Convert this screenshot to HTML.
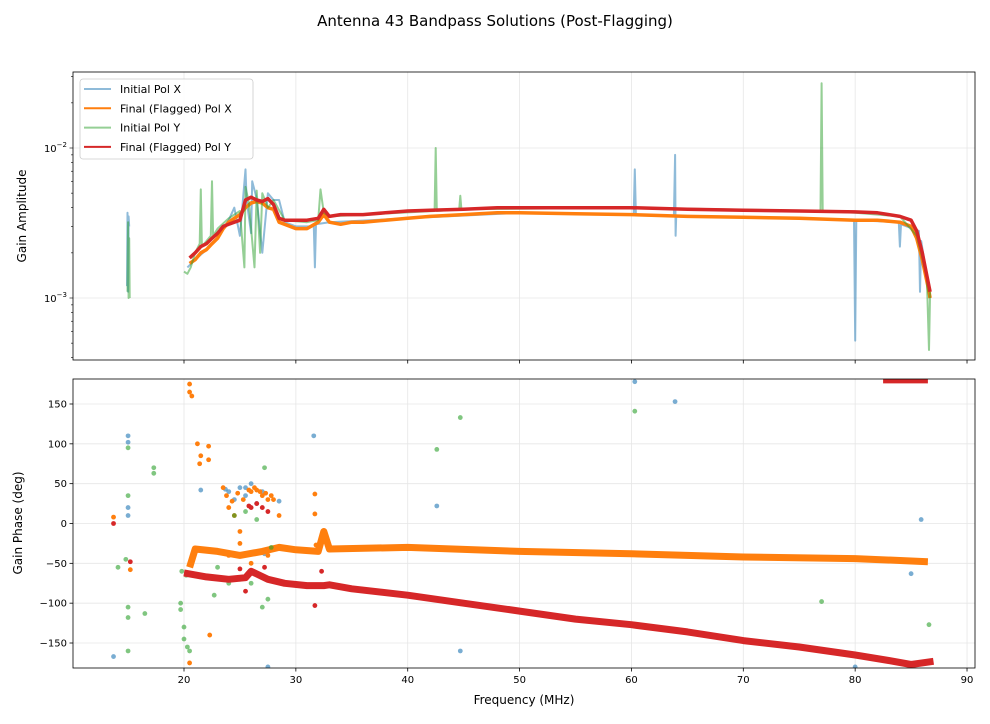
<!DOCTYPE html>
<html><head><meta charset="utf-8"><style>
body{margin:0;background:#fff;font-family:"DejaVu Sans","Liberation Sans",sans-serif;}
svg text{font-family:"DejaVu Sans","Liberation Sans",sans-serif;}
</style></head><body>
<svg id="c" width="990" height="720" viewBox="0 0 990 720">
<defs>
<clipPath id="ct"><rect x="73" y="72" width="902" height="288"/></clipPath>
<clipPath id="cb"><rect x="73" y="379" width="902" height="289"/></clipPath>
</defs>
<text x="495" y="26" text-anchor="middle" font-size="15">Antenna 43 Bandpass Solutions (Post-Flagging)</text>
<g id="topPanel"></g>
<g id="botPanel"></g>
</svg>
<script>
// ---- data ----
const xTicks=[20,30,40,50,60,70,80,90];
const phaseTicks=[-150,-100,-50,0,50,100,150];
const ampMajorTicks=[0.001,0.01];
// amplitudes in units of 1e-3 (null = gap)
const finalXFreq=[20.5,21,21.5,22,22.5,23,23.5,24,24.5,25,25.5,26,26.5,27,27.5,28,28.5,29,30,31,32,32.5,33,34,35,36,38,40,42,45,48,50,55,60,65,70,75,80,82,84,85,85.5,86,86.5,86.7];
const finalXAmp=[1.7,1.8,2.0,2.1,2.3,2.5,2.9,3.2,3.4,3.6,4.0,4.3,4.4,4.3,4.0,3.9,3.2,3.1,2.9,2.9,3.2,3.6,3.2,3.1,3.2,3.2,3.3,3.4,3.5,3.6,3.7,3.7,3.65,3.6,3.5,3.45,3.4,3.3,3.3,3.2,3.0,2.5,1.8,1.2,1.0];
const finalYFreq=[20.5,21,21.5,22,22.5,23,23.5,24,24.5,25,25.5,26,26.5,27,27.5,28,28.5,29,30,31,32,32.5,33,34,35,36,38,40,42,45,48,50,55,60,65,70,75,80,82,84,85,85.5,86,86.5,86.7];
const finalYAmp=[1.85,2.0,2.2,2.3,2.5,2.7,3.0,3.1,3.2,3.3,4.5,4.7,4.5,4.4,4.6,4.2,3.4,3.3,3.3,3.3,3.4,3.9,3.5,3.6,3.6,3.6,3.7,3.8,3.85,3.9,4.0,4.0,4.0,4.0,3.9,3.85,3.8,3.75,3.7,3.5,3.3,2.8,2.0,1.3,1.1];
const initXFreq=[14.9,14.95,15,15.05,15.1,null,20.3,21,22,23,24,24.5,25,25.5,25.6,26,26.1,26.5,27,27.5,28,28.5,29,30,31.6,31.7,31.8,33,40,50,60.2,60.3,60.4,63.8,63.9,63.95,64,70,79.9,80,80.1,83.9,84,84.1,85.7,85.8,85.9,86.7];
const initXAmp=[1.2,3.7,1.1,3.5,3.0,null,1.6,1.8,2.1,2.5,3.3,4.0,2.6,7.2,4.5,2.7,6.0,4.6,2.0,5.0,4.5,4.5,3.2,3.0,3.0,1.6,3.1,3.2,3.4,3.7,3.6,7.2,3.6,3.5,9.0,2.6,3.5,3.45,3.3,0.52,3.3,3.2,2.2,3.1,2.8,1.1,2.4,1.0];
const initYFreq=[14.95,15,15.05,15.1,15.15,null,20,20.3,20.6,21,21.4,21.5,21.6,22.4,22.5,22.6,23,24,25,25.4,25.5,25.8,26.3,26.5,26.8,27,27.5,28,29,31,32,32.2,32.5,33,42.4,42.5,42.6,44.6,44.7,44.8,60,76.9,77,77.1,80,84,85.5,86.2,86.4,86.6,86.7];
const initYAmp=[1.1,3.2,1.0,2.5,1.0,null,1.5,1.45,1.6,2.0,2.3,5.3,2.2,2.6,6.0,2.6,2.9,3.4,3.8,1.6,5.5,4.3,1.6,5.2,2.0,5.0,4.0,4.5,3.3,3.2,3.3,5.3,3.7,3.5,3.8,10.0,3.8,3.9,4.8,3.9,4.0,3.8,27.0,3.8,3.7,3.5,2.6,1.6,1.4,0.45,1.1];
// phase bands (deg)
const bandXFreq=[20.5,21,23,25,27,28.5,30,32,32.5,33,40,50,60,70,80,86.5];
const bandXPhase=[-55,-32,-35,-40,-35,-30,-33,-35,-10,-32,-30,-35,-38,-42,-44,-48];
const bandYFreq=[20,22,24,25.5,26,27.5,29,31,32.5,33,35,40,45,50,55,60,65,70,75,80,83,85,87];
const bandYPhase=[-62,-67,-70,-68,-60,-70,-75,-78,-78,-77,-82,-90,-100,-110,-120,-127,-136,-147,-155,-165,-172,-177,-173];
const wrapYFreq=[82.5,86.5];
const wrapYPhase=[179,179];
const ptsBlueF=[13.7,15,15,15,15,21.5,23.7,24,25,25.5,26,27,27.5,31.6,42.6,44.7,60.3,63.9,85.9,85,80,24.5,25.5,26.5,27.2,28.5];
const ptsBlueP=[-167,110,102,20,10,42,43,40,45,45,50,40,-180,110,22,-160,178,153,5,-63,-180,30,35,25,-38,28];
const ptsGreenF=[14.1,15,15,15,15,15,14.8,16.5,17.3,17.3,19.7,19.7,20,20,20.3,20.5,22.7,24,25,26,27,27.5,27.2,42.6,44.7,60.3,77,86.6,24.5,25.5,26.5,19.8,20.2,23,27.8];
const ptsGreenP=[-55,95,35,-105,-118,-160,-45,-113,70,63,-108,-100,-130,-145,-155,-160,-90,-75,-70,-75,-105,-95,70,93,133,141,-98,-127,10,15,5,-60,-65,-55,-30];
const ptsOrangeF=[13.7,15.2,20.5,20.5,20.7,21.2,21.5,21.4,22.2,22.2,22.3,20.5,23.5,24,24.5,25,26,26.5,27,27.5,28,28.5,31.7,31.7,24,25,26,27.5,31.8,23.8,24.8,25.8,26.8,27.8,24.3,25.3,26.3,27.3];
const ptsOrangeP=[8,-58,175,165,160,100,85,75,97,80,-140,-175,45,20,10,-10,40,42,35,30,30,10,37,12,-40,-25,-50,-40,-27,35,38,42,40,35,28,30,45,38];
const ptsRedF=[13.7,15.2,25,25.5,26,27,27.5,31.7,32.3,26.5,25.8,27.2];
const ptsRedP=[0,-48,-57,-85,20,20,15,-103,-60,25,22,-55];

// ---- axes ----
const NS='http://www.w3.org/2000/svg';
const L=73,R=975,TT=72,TB=360,BT=379,BB=668;
function xs(f){return 184+(f-20)*11.186;}
function ya(v){return 148-(Math.log10(v*1e-3)+2)*150;}
function yp(p){return 523.5-p*0.7967;}
function mk(tag,at,par){const e=document.createElementNS(NS,tag);for(const k in at)e.setAttribute(k,at[k]);par.appendChild(e);return e;}
function fmt(n){return n<0?'\u2212'+(-n):String(n);}
const topG=document.getElementById('topPanel'),botG=document.getElementById('botPanel');

// grids
xTicks.forEach(t=>{const X=xs(t);
 let g=mk('line',{x1:X,x2:X,y1:TT,y2:TB,stroke:'#e6e6e6','stroke-width':0.8},topG);
 
 g=mk('line',{x1:X,x2:X,y1:BT,y2:BB,stroke:'#e6e6e6','stroke-width':0.8},botG);
 });
ampMajorTicks.forEach(t=>{const Y=ya(t*1e3);
 const g=mk('line',{x1:L,x2:R,y1:Y,y2:Y,stroke:'#e6e6e6','stroke-width':0.8},topG);
 });
phaseTicks.forEach(t=>{const Y=yp(t);
 const g=mk('line',{x1:L,x2:R,y1:Y,y2:Y,stroke:'#e6e6e6','stroke-width':0.8},botG);
 });

// lines
const gt=mk('g',{'clip-path':'url(#ct)'},topG);
function drawLine(par,F,V,fy,col,w,op,name){
 let d='',start=true;
 F.forEach((f,i)=>{if(f===null||V[i]===null){start=true;return;}
  d+=(start?'M':'L')+xs(f).toFixed(1)+','+fy(V[i]).toFixed(1);start=false;});
 const p=mk('path',{d:d,fill:'none',stroke:col,'stroke-width':w,'stroke-opacity':op,'stroke-linejoin':'round'},par);
 return p;}
drawLine(gt,initXFreq,initXAmp,ya,'#1f77b4',2,0.5,'initial-pol-x-line');
drawLine(gt,finalXFreq,finalXAmp,ya,'#ff7f0e',3.5,1,'final-pol-x-line');
drawLine(gt,initYFreq,initYAmp,ya,'#2ca02c',2,0.5,'initial-pol-y-line');
drawLine(gt,finalYFreq,finalYAmp,ya,'#d62728',3.5,1,'final-pol-y-line');

// phase
const gb=mk('g',{'clip-path':'url(#cb)'},botG);
function pts(F,P,col,op,name){F.forEach((f,i)=>{const c=mk('circle',{cx:xs(f),cy:yp(P[i]),r:2.4,fill:col,'fill-opacity':op},gb);
 });}
pts(ptsBlueF,ptsBlueP,'#1f77b4',0.6,'initial-pol-x-point');
drawLine(gb,bandXFreq,bandXPhase,yp,'#ff7f0e',7,1,'final-pol-x-phase-band');
pts(ptsOrangeF,ptsOrangeP,'#ff7f0e',1,'final-pol-x-point');
pts(ptsGreenF,ptsGreenP,'#2ca02c',0.6,'initial-pol-y-point');
drawLine(gb,bandYFreq,bandYPhase,yp,'#d62728',7,1,'final-pol-y-phase-band');
drawLine(gb,wrapYFreq,wrapYPhase,yp,'#d62728',5,1,'final-pol-y-phase-wrap');
pts(ptsRedF,ptsRedP,'#d62728',1,'final-pol-y-point');

// frames
[[topG,TT,TB,'amplitude-frame'],[botG,BT,BB,'phase-frame']].forEach(([g,a,b,n])=>{
 const r=mk('rect',{x:L,y:a,width:R-L,height:b-a,fill:'none',stroke:'#000','stroke-width':0.8},g);
 });
// x ticks
xTicks.forEach(t=>{const X=xs(t);
 mk('line',{x1:X,x2:X,y1:TB,y2:TB+3.5,stroke:'#000','stroke-width':0.8},topG);
 mk('line',{x1:X,x2:X,y1:BB,y2:BB+3.5,stroke:'#000','stroke-width':0.8},botG);
 const tx=mk('text',{x:X,y:BB+15,'text-anchor':'middle','font-size':10},botG);tx.textContent=fmt(t);
 });
// amp y ticks
for(let e=-4;e<=-1;e++)for(let m=1;m<10;m++){const v=m*Math.pow(10,e)*1e3;const Y=ya(v);if(Y<TT||Y>TB)continue;
 mk('line',{x1:L,x2:L-(m==1?3.5:2),y1:Y,y2:Y,stroke:'#000','stroke-width':0.6},topG);}
ampMajorTicks.forEach(t=>{const Y=ya(t*1e3);
 const tx=mk('text',{x:L-6,y:Y+4,'text-anchor':'end','font-size':10},topG);
 
 tx.innerHTML='10<tspan dy="-5" font-size="7">'+fmt(Math.round(Math.log10(t)))+'</tspan>';});
phaseTicks.forEach(t=>{const Y=yp(t);
 mk('line',{x1:L,x2:L-3.5,y1:Y,y2:Y,stroke:'#000','stroke-width':0.8},botG);
 const tx=mk('text',{x:L-6,y:Y+3.5,'text-anchor':'end','font-size':10},botG);tx.textContent=fmt(t);
 });
// axis titles
let tx=mk('text',{x:26,y:216,'text-anchor':'middle','font-size':12,transform:'rotate(-90 26 216)'},topG);tx.textContent='Gain Amplitude';

tx=mk('text',{x:22,y:523,'text-anchor':'middle','font-size':12,transform:'rotate(-90 22 523)'},botG);tx.textContent='Gain Phase (deg)';

tx=mk('text',{x:524,y:704,'text-anchor':'middle','font-size':12},botG);tx.textContent='Frequency (MHz)';

// legend
const lg=mk('g',{},topG);

mk('rect',{x:80,y:79,width:173,height:80,rx:3,fill:'#fff','fill-opacity':0.85,stroke:'#ccc','stroke-width':0.8},lg);
const legNames=['Initial Pol X','Final (Flagged) Pol X','Initial Pol Y','Final (Flagged) Pol Y'];
const legCols=['#1f77b4','#ff7f0e','#2ca02c','#d62728'],legOp=[0.5,1,0.5,1];
legNames.forEach((n,i)=>{const Y=89+i*19.3;
 const e=mk('g',{},lg);
 mk('line',{x1:84,x2:111,y1:Y,y2:Y,stroke:legCols[i],'stroke-width':2,'stroke-opacity':legOp[i]},e);
 const t=mk('text',{x:120,y:Y+4,'font-size':11},e);t.textContent=n;});
</script>
</body></html>
